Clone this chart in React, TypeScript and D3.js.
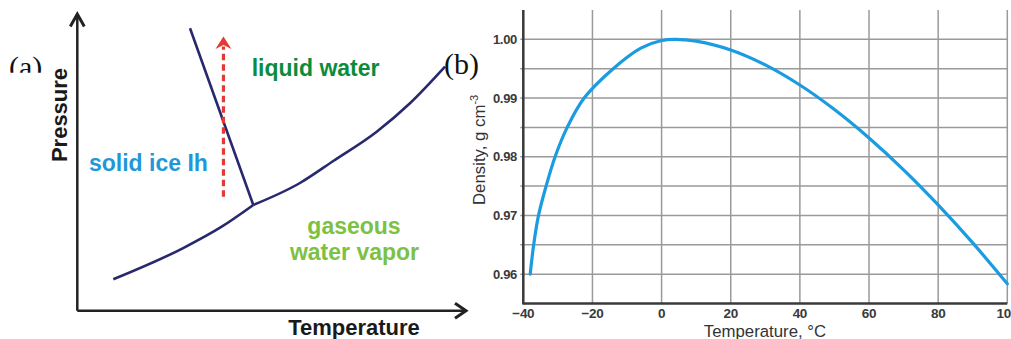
import React from "react";
import * as d3 from "d3";

// Panel (a): schematic phase diagram (arbitrary units 0-100)
const sublimT = [9.26, 27.12, 37.15, 45.28];
const sublimP = [10.58, 21.03, 28.31, 35.63];
const vaporT = [45.28, 57.29, 65.86, 77.03, 85.59, 94.6];
const vaporP = [35.63, 43.04, 50.46, 60.33, 69.9, 82.24];
const meltT = [29.0, 45.28];
const meltP = [95.2, 35.63];
const arrowT = [37.6, 37.6];
const arrowP = [38.4, 92.4];

// Panel (b): density of water
const densityTemps = [-38, -37, -35.6, -33.4, -30.8, -27.3, -22.4, -14, -6, 0, 4, 7, 10, 20, 30, 40, 50, 60, 70, 80, 90, 100];
const densityValues = [0.96, 0.965, 0.97, 0.975, 0.98, 0.985, 0.99, 0.995, 0.9985, 0.9998, 1.0, 0.9999, 0.9997, 0.9982, 0.99565, 0.99222, 0.98804, 0.9832, 0.97778, 0.9718, 0.96532, 0.95835];
const xTicks = [-40, -20, 0, 20, 40, 60, 80, 100];
const yTicks = [0.96, 0.97, 0.98, 0.99, 1.0];
const yGrid = [0.96, 0.965, 0.97, 0.975, 0.98, 0.985, 0.99, 0.995, 1.0];

export default function App() {
  const ax = d3.scaleLinear().domain([0, 100]).range([77.3, 466]);
  const ay = d3.scaleLinear().domain([0, 100]).range([310.7, 14]);
  const lineA = d3
    .line<[number, number]>()
    .x((d) => ax(d[0]))
    .y((d) => ay(d[1]))
    .curve(d3.curveMonotoneX);
  const sublimPts: [number, number][] = sublimT.map((t, i) => [t, sublimP[i]]);
  const vaporPts: [number, number][] = vaporT.map((t, i) => [t, vaporP[i]]);
  const meltPts: [number, number][] = meltT.map((t, i) => [t, meltP[i]]);
  const arrowX = ax(arrowT[0]);
  const arrowY0 = ay(arrowP[0]);
  const arrowY1 = ay(arrowP[1]);

  const bx = d3.scaleLinear().domain([-40, 100]).range([523.3, 1007.3]);
  const by = d3.scaleLinear().domain([0.955, 1.005]).range([303.5, 10]);
  const lineB = d3
    .line<number>()
    .x((_, i) => bx(densityTemps[i]))
    .y((d) => by(d))
    .curve(d3.curveCatmullRom.alpha(0.5));

  const dark = "#222";
  const navy = "#28286f";
  const sans = "'Liberation Sans', Arial, sans-serif";
  const serif = "'Liberation Serif', 'Times New Roman', serif";

  return (
    <svg
      width={1011}
      height={339}
      style={{ position: "absolute", left: 0, top: 0, background: "#fff" }}
    >
      <defs>
        <clipPath id="clipA">
          <rect x={0} y={0} width={60} height={72.7} />
        </clipPath>
      </defs>
      <rect x={0} y={0} width={1011} height={339} fill="#fff" />

      {/* ===== Panel (a) ===== */}
      <text x={9} y={77} fontFamily={serif} fontSize={30} fill="#111" clipPath="url(#clipA)">
        (a)
      </text>
      <line x1={ax(0)} y1={ay(0)} x2={ax(0)} y2={ay(100) + 1} stroke={dark} strokeWidth={2.5} />
      <line x1={ax(0)} y1={ay(0)} x2={ax(100) - 1} y2={ay(0)} stroke={dark} strokeWidth={2.5} />
      <polyline
        points={`${ax(0) - 7},${ay(100) + 12.5} ${ax(0)},${ay(100)} ${ax(0) + 7},${ay(100) + 12.5}`}
        fill="none"
        stroke={dark}
        strokeWidth={3}
      />
      <polyline
        points={`${ax(100) - 11},${ay(0) - 7.5} ${ax(100)},${ay(0)} ${ax(100) - 11},${ay(0) + 7.5}`}
        fill="none"
        stroke={dark}
        strokeWidth={3}
      />
      <text
        transform={`translate(67,115) rotate(-90)`}
        textAnchor="middle"
        fontFamily={sans}
        fontWeight="bold"
        fontSize={22}
        fill="#1a1a1a"
      >
        Pressure
      </text>
      <text x={354} y={335} textAnchor="middle" fontFamily={sans} fontWeight="bold" fontSize={22} fill="#1a1a1a">
        Temperature
      </text>

      <path d={lineA(sublimPts) || ""} fill="none" stroke={navy} strokeWidth={2.6} strokeLinejoin="round" />
      <path d={lineA(vaporPts) || ""} fill="none" stroke={navy} strokeWidth={2.6} strokeLinejoin="round" />
      <path d={lineA(meltPts) || ""} fill="none" stroke={navy} strokeWidth={2.6} />

      <line
        x1={arrowX}
        y1={arrowY0}
        x2={arrowX}
        y2={arrowY1 + 10}
        stroke="#e23a36"
        strokeWidth={3.2}
        strokeDasharray="6.5 4"
      />
      <path
        d={`M${arrowX},${arrowY1} L${arrowX + 8},${arrowY1 + 12.5} L${arrowX},${arrowY1 + 8.5} L${arrowX - 8},${arrowY1 + 12.5} Z`}
        fill="#e23a36"
      />

      <text x={251.7} y={76} fontFamily={sans} fontWeight="bold" fontSize={23} fill="#0b8c3d">
        liquid water
      </text>
      <text x={89} y={170.7} fontFamily={sans} fontWeight="bold" fontSize={23} fill="#1e98d8">
        solid ice Ih
      </text>
      <text x={354} y={234} textAnchor="middle" fontFamily={sans} fontWeight="bold" fontSize={23} fill="#7cc143">
        gaseous
      </text>
      <text x={354.5} y={259.5} textAnchor="middle" fontFamily={sans} fontWeight="bold" fontSize={23} fill="#7cc143">
        water vapor
      </text>

      <text x={444} y={74} fontFamily={serif} fontSize={30} fill="#111">
        (b)
      </text>

      {/* ===== Panel (b) ===== */}
      {yGrid.map((v) => (
        <line key={"hg" + v} x1={bx(-40) - 3} x2={bx(100)} y1={by(v)} y2={by(v)} stroke="#9a9a9a" strokeWidth={1.5} />
      ))}
      {xTicks.map((t) => (
        <line key={"vg" + t} x1={bx(t)} x2={bx(t)} y1={by(1.005)} y2={by(0.955)} stroke="#9a9a9a" strokeWidth={1.5} />
      ))}
      <line x1={bx(-40)} x2={bx(-40)} y1={by(1.005)} y2={by(0.955) + 1} stroke="#3a3a3a" strokeWidth={2.5} />
      <line x1={bx(-40)} x2={bx(100)} y1={by(0.955)} y2={by(0.955)} stroke="#3a3a3a" strokeWidth={2.5} />

      {yTicks.map((v) => (
        <text
          key={"yt" + v}
          x={517}
          y={by(v) + 4.7}
          textAnchor="end"
          fontFamily={sans}
          fontWeight="bold"
          fontSize={13}
          fill="#3a3a3a"
          letterSpacing={-0.3}
        >
          {d3.format(".2f")(v)}
        </text>
      ))}
      {xTicks.map((t) => (
        <text
          key={"xt" + t}
          x={bx(t)}
          y={318.3}
          textAnchor="middle"
          fontFamily={sans}
          fontWeight="bold"
          fontSize={13.5}
          fill="#3a3a3a"
          letterSpacing={-0.3}
        >
          {t < 0 ? "\u2212" + Math.abs(t) : String(t)}
        </text>
      ))}
      <text x={765} y={336.5} textAnchor="middle" fontFamily={sans} fontSize={16.8} fill="#333">
        Temperature, °C
      </text>
      <text transform="translate(484.6,205) rotate(-90)" fontFamily={sans} fontSize={16.8} fill="#333">
        Density, g cm
        <tspan fontSize={11} dy={-7}>
          -3
        </tspan>
      </text>

      <path d={lineB(densityValues) || ""} fill="none" stroke="#1b9be0" strokeWidth={3.2} strokeLinecap="round" />
    </svg>
  );
}
